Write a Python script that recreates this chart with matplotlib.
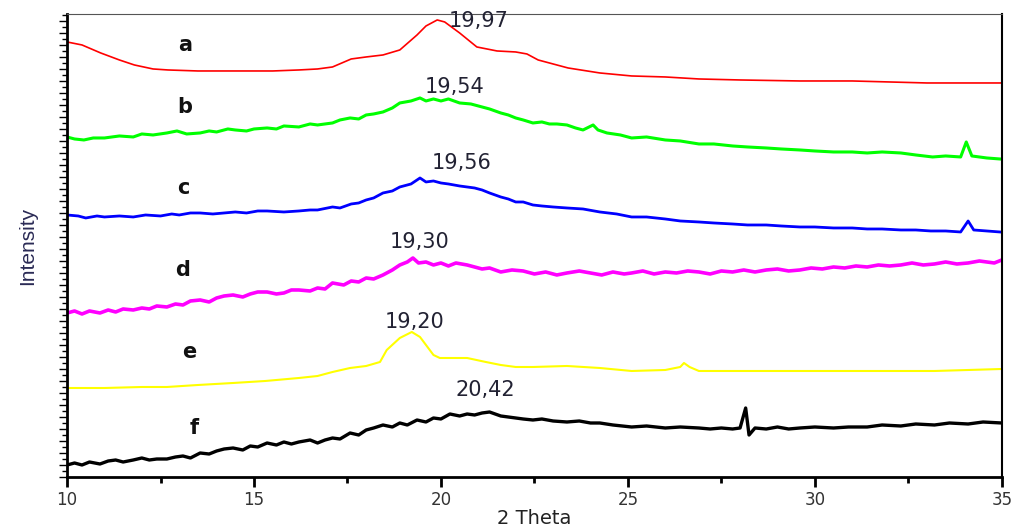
import matplotlib
matplotlib.use("Agg")
import matplotlib.pyplot as plt
from matplotlib.ticker import MultipleLocator, NullFormatter

# 2 theta positions and intensities (arbitrary units)
theta_a = [10.0, 10.4, 10.9, 11.4, 11.8, 12.3, 12.7, 13.5, 14.5, 15.5, 16.2, 16.7, 17.1,
           17.6, 18.0, 18.45, 18.9, 19.36, 19.6, 19.9, 20.1, 20.5, 20.96, 21.5, 22.0,
           22.3, 22.6, 23.0, 23.4, 24.25, 25.1, 26.0, 26.9, 28.0, 29.6, 31.0, 32.0, 33.0, 35.0]
int_a = [435, 432, 424, 417, 412, 408, 407, 406, 406, 406, 407, 408, 410,
         418, 420, 422, 427, 442, 451, 457, 455, 444, 430, 426, 425,
         423, 417, 413, 409, 404, 401, 400, 398, 397, 396, 396, 395, 394, 394]

theta_b = [10.0, 10.2, 10.45, 10.7, 11.0, 11.4, 11.77, 12.0, 12.3, 12.67, 12.94, 13.2,
           13.56, 13.8, 14.0, 14.3, 14.5, 14.8, 15.0, 15.35, 15.6, 15.8, 16.2, 16.5,
           16.7, 17.1, 17.3, 17.57, 17.8, 18.0, 18.2, 18.45, 18.7, 18.9, 19.2, 19.44,
           19.6, 19.8, 20.0, 20.2, 20.5, 20.8, 21.1, 21.3, 21.6, 21.8, 22.0, 22.2,
           22.46, 22.7, 22.9, 23.1, 23.37, 23.6, 23.8, 24.07, 24.2, 24.44, 24.8, 25.1,
           25.5, 26.0, 26.4, 26.9, 27.3, 27.8, 28.2, 28.7, 29.1, 29.6, 30.0, 30.5,
           31.0, 31.4, 31.8, 32.3, 32.7, 33.15, 33.5, 33.9, 34.05, 34.2, 34.6, 34.95]
int_b = [340, 338, 337, 339, 339, 341, 340, 343, 342, 344, 346, 343,
         344, 346, 345, 348, 347, 346, 348, 349, 348, 351, 350, 353,
         352, 354, 357, 359, 358, 362, 363, 365, 369, 374, 376, 379,
         376, 378, 376, 378, 374, 373, 370, 368, 364, 362, 359, 357,
         354, 355, 353, 353, 352, 349, 347, 352, 347, 344, 342, 339,
         340, 337, 336, 333, 333, 331, 330, 329, 328, 327, 326, 325,
         325, 324, 325, 324, 322, 320, 321, 320, 335, 321, 319, 318]

theta_c = [10.0, 10.3, 10.5, 10.8, 11.0, 11.4, 11.77, 12.1, 12.5, 12.8, 13.0, 13.3,
           13.56, 13.9, 14.2, 14.5, 14.8, 15.1, 15.35, 15.8, 16.2, 16.5, 16.7, 17.1,
           17.3, 17.6, 17.8, 18.0, 18.2, 18.45, 18.7, 18.9, 19.2, 19.44, 19.6, 19.8,
           20.0, 20.2, 20.5, 20.7, 20.9, 21.1, 21.3, 21.6, 21.8, 22.0, 22.2, 22.46,
           22.7, 23.0, 23.37, 23.8, 24.25, 24.7, 25.1, 25.5, 26.0, 26.4, 26.9, 27.3,
           27.8, 28.2, 28.7, 29.1, 29.6, 30.0, 30.5, 31.0, 31.4, 31.8, 32.3, 32.7,
           33.1, 33.5, 33.9, 34.1, 34.25, 34.6, 34.95]
int_c = [262, 261, 259, 261, 260, 261, 260, 262, 261, 263, 262, 264,
         264, 263, 264, 265, 264, 266, 266, 265, 266, 267, 267, 270,
         269, 273, 274, 277, 279, 284, 286, 290, 293, 299, 295, 296,
         294, 293, 291, 290, 289, 287, 284, 280, 278, 275, 275, 272,
         271, 270, 269, 268, 265, 263, 260, 260, 258, 256, 255, 254,
         253, 252, 252, 251, 250, 250, 249, 249, 248, 248, 247, 247,
         246, 246, 245, 256, 247, 246, 245]

theta_d = [10.0, 10.2, 10.4, 10.6, 10.88, 11.1, 11.3, 11.5, 11.77, 12.0, 12.2, 12.4,
           12.67, 12.9, 13.1, 13.3, 13.56, 13.8, 14.0, 14.2, 14.44, 14.7, 14.9, 15.1,
           15.35, 15.6, 15.8, 16.0, 16.2, 16.5, 16.7, 16.9, 17.1, 17.4, 17.6, 17.8,
           18.0, 18.2, 18.45, 18.7, 18.9, 19.1, 19.25, 19.4, 19.6, 19.8, 20.0, 20.2,
           20.4, 20.7, 20.9, 21.1, 21.3, 21.6, 21.9, 22.2, 22.5, 22.8, 23.1, 23.37,
           23.7, 24.0, 24.3, 24.6, 24.9, 25.1, 25.4, 25.7, 26.0, 26.3, 26.6, 26.9,
           27.2, 27.5, 27.8, 28.1, 28.4, 28.7, 29.0, 29.3, 29.6, 29.9, 30.2, 30.5,
           30.8, 31.1, 31.4, 31.7, 32.0, 32.3, 32.6, 32.9, 33.2, 33.5, 33.8, 34.1,
           34.4, 34.6, 34.8, 35.0]
int_d = [164, 166, 163, 166, 164, 167, 165, 168, 167, 169, 168, 171,
         170, 173, 172, 176, 177, 175, 179, 181, 182, 180, 183, 185,
         185, 183, 184, 187, 187, 186, 189, 188, 194, 192, 196, 195,
         199, 198, 202, 207, 212, 215, 219, 214, 215, 212, 214, 211,
         214, 212, 210, 208, 209, 205, 207, 206, 203, 205, 202, 204,
         206, 204, 202, 205, 203, 204, 206, 203, 205, 204, 206, 205,
         203, 206, 205, 207, 205, 207, 208, 206, 207, 209, 208, 210,
         209, 211, 210, 212, 211, 212, 214, 212, 213, 215, 213, 214,
         216, 215, 214, 217]

theta_e = [10.0, 11.0, 12.0, 12.67, 13.5, 14.44, 15.3, 16.2, 16.7, 17.1, 17.57, 18.0,
           18.37, 18.55, 18.9, 19.22, 19.44, 19.8, 19.97, 20.3, 20.7, 21.2, 21.6, 22.0,
           22.46, 23.37, 24.25, 25.1, 26.0, 26.4, 26.5, 26.65, 26.9, 27.8, 28.7, 29.6,
           30.5, 31.4, 32.3, 33.2, 34.1, 35.0]
int_e = [89, 89, 90, 90, 92, 94, 96, 99, 101, 105, 109, 111,
         115, 127, 139, 145, 140, 122, 119, 119, 119, 115, 112, 110,
         110, 111, 109, 106, 107, 110, 114, 110, 106, 106, 106, 106,
         106, 106, 106, 106, 107, 108]

theta_f = [10.0, 10.2, 10.4, 10.6, 10.88, 11.1, 11.3, 11.5, 11.77, 12.0, 12.2, 12.4,
           12.67, 12.9, 13.1, 13.3, 13.56, 13.8, 14.0, 14.2, 14.44, 14.7, 14.9, 15.1,
           15.35, 15.6, 15.8, 16.0, 16.2, 16.5, 16.7, 16.9, 17.1, 17.3, 17.57, 17.8,
           18.0, 18.2, 18.45, 18.7, 18.9, 19.1, 19.36, 19.6, 19.8, 20.0, 20.24, 20.5,
           20.7, 20.9, 21.1, 21.3, 21.6, 21.8, 22.0, 22.2, 22.46, 22.7, 23.0, 23.37,
           23.7, 24.0, 24.25, 24.6, 25.1, 25.5, 26.0, 26.4, 26.9, 27.2, 27.5, 27.8,
           28.0, 28.15, 28.24, 28.4, 28.7, 29.0, 29.3, 29.6, 30.0, 30.5, 30.9, 31.4,
           31.8, 32.3, 32.7, 33.2, 33.6, 34.1, 34.5, 35.0]
int_f = [12, 14, 12, 15, 13, 16, 17, 15, 17, 19, 17, 18,
         18, 20, 21, 19, 24, 23, 26, 28, 29, 27, 31, 30,
         34, 32, 35, 33, 35, 37, 34, 37, 39, 38, 44, 42,
         47, 49, 52, 50, 54, 52, 57, 55, 59, 58, 63, 61,
         63, 62, 64, 65, 61, 60, 59, 58, 57, 58, 56, 55,
         56, 54, 54, 52, 50, 51, 49, 50, 49, 48, 49, 48,
         49, 69, 42, 49, 48, 50, 48, 49, 50, 49, 50, 50,
         52, 51, 53, 52, 54, 53, 55, 54]

curve_names = ["a", "b", "c", "d", "e", "f"]
curve_colors = ["#ff0000", "#00ff00", "#0000ff", "#ff00ff", "#ffff00", "#000000"]
name_pos = [(13.16, 432), (13.16, 370), (13.1, 289), (13.1, 207), (13.26, 125), (13.4, 49)]

peak_labels = ["19,97", "19,54", "19,56", "19,30", "19,20", "20,42"]
peak_pos = [(21.0, 456), (20.37, 390), (20.56, 314), (19.44, 235), (19.3, 155), (21.18, 87)]

fig = plt.figure(figsize=(10.16, 5.31), dpi=100)
ax = fig.add_axes([0.066, 0.1017, 0.92, 0.872])

all_theta = [theta_a, theta_b, theta_c, theta_d, theta_e, theta_f]
all_int = [int_a, int_b, int_c, int_d, int_e, int_f]
widths = [1.2, 2.2, 2.0, 2.6, 1.5, 2.4]

for th, it, col, lw in zip(all_theta, all_int, curve_colors, widths):
    ax.plot(th, it, color=col, linewidth=lw)

for name, (x, y) in zip(curve_names, name_pos):
    ax.text(x, y, name, fontsize=15, fontweight="bold", ha="center", va="center",
            family="DejaVu Sans", color="#111111")

for lab, (x, y) in zip(peak_labels, peak_pos):
    ax.text(x, y, lab, fontsize=15, ha="center", va="center", color="#222233",
            family="DejaVu Sans")

ax.set_xlim(10, 35)
ax.set_ylim(0, 463)

ax.xaxis.set_major_locator(MultipleLocator(5))
ax.xaxis.set_minor_locator(MultipleLocator(2.5))
ax.yaxis.set_major_locator(MultipleLocator(12))
ax.yaxis.set_minor_locator(MultipleLocator(6))
ax.yaxis.set_major_formatter(NullFormatter())

ax.tick_params(axis="x", which="major", direction="out", length=7, width=2,
               labelsize=12, labelcolor="#333333", pad=3)
ax.tick_params(axis="x", which="minor", direction="out", length=4, width=2)
ax.tick_params(axis="y", which="major", direction="out", length=6, width=1)
ax.tick_params(axis="y", which="minor", direction="out", length=3.5, width=1)
ax.tick_params(top=False, right=False)

for side in ["left", "bottom"]:
    ax.spines[side].set_linewidth(2)
ax.spines["top"].set_color("#555555")
ax.spines["right"].set_linewidth(1.5)

ax.set_xlabel("2 Theta", fontsize=14, family="DejaVu Sans", color="#222222", labelpad=0)
ax.set_ylabel("Intensity", fontsize=15, family="Liberation Sans", color="#2a2a55",
              labelpad=12)

fig.savefig("out.png", dpi=100)
